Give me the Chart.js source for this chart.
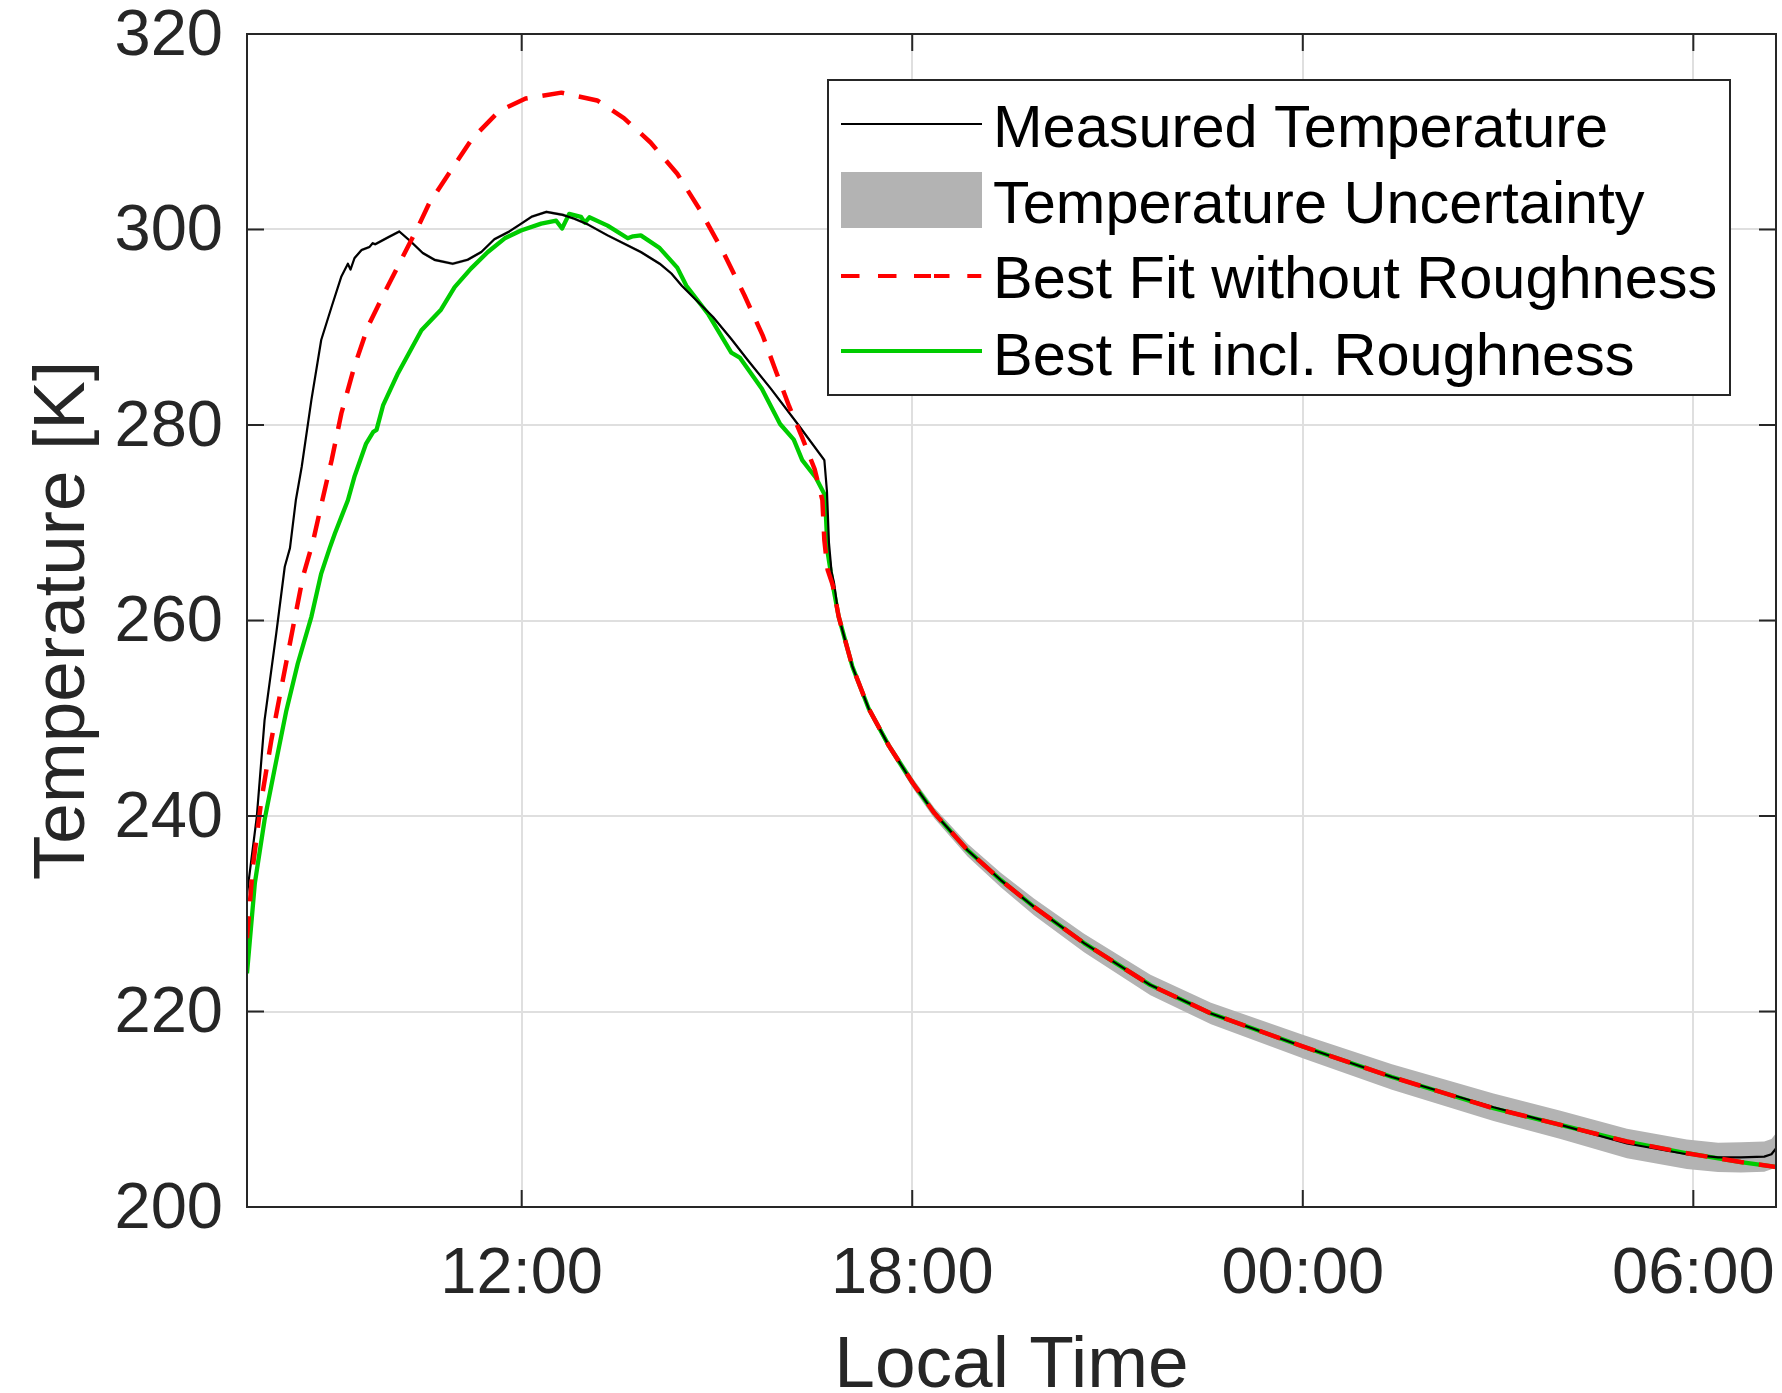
<!DOCTYPE html>
<html>
<head>
<meta charset="utf-8">
<title>Temperature fit</title>
<script src="https://cdn.jsdelivr.net/npm/chart.js@4.4.0/dist/chart.umd.min.js"></script>
<style>
  html, body { margin: 0; padding: 0; background: #fff; }
  canvas { display: block; }
</style>
</head>
<body>
<canvas id="tempChart" width="1782" height="1393"></canvas>
<script>
// --- data (hours since midnight of day 1, K) ---
const measHours = [7.78, 7.93, 8.05, 8.23, 8.36, 8.44, 8.53, 8.62, 8.77, 8.92, 9.08, 9.23, 9.33, 9.37, 9.43, 9.54, 9.66, 9.71, 9.75, 9.95, 10.12, 10.30, 10.48, 10.66, 10.94, 11.17, 11.38, 11.58, 11.81, 11.97, 12.15, 12.38, 12.63, 12.81, 13.02, 13.32, 13.83, 14.12, 14.30, 14.46, 14.94, 15.22, 15.49, 15.83, 16.24, 16.65, 16.69, 16.72, 16.76, 16.80, 16.87, 17.08, 17.33, 17.64, 18.01, 18.34, 18.85, 19.36, 19.87, 20.64, 21.66, 22.59, 24.01, 25.37, 26.93, 27.96, 28.98, 29.90, 30.38, 30.73, 31.09, 31.20, 31.27];
const measTemp = [232.0, 239.9, 249.8, 258.7, 265.5, 267.4, 272.3, 275.7, 282.6, 288.7, 292.1, 295.2, 296.5, 295.9, 297.05, 297.9, 298.2, 298.6, 298.5, 299.2, 299.8, 298.75, 297.6, 296.9, 296.5, 296.9, 297.7, 299.0, 299.8, 300.5, 301.3, 301.8, 301.5, 301.1, 300.5, 299.4, 297.7, 296.5, 295.5, 294.25, 291.05, 288.8, 286.5, 283.7, 280.1, 276.4, 273.2, 268.0, 265.0, 263.8, 260.4, 255.3, 251.0, 247.2, 243.35, 240.3, 236.5, 233.45, 230.7, 227.0, 222.7, 219.8, 216.4, 213.3, 210.2, 208.4, 206.5, 205.4, 205.08, 205.08, 205.15, 205.4, 206.0];
const measUnc = [0.2, 0.2, 0.2, 0.2, 0.2, 0.2, 0.2, 0.15, 0.15, 0.15, 0.15, 0.15, 0.15, 0.15, 0.15, 0.15, 0.15, 0.15, 0.15, 0.15, 0.15, 0.15, 0.15, 0.15, 0.15, 0.15, 0.15, 0.15, 0.15, 0.15, 0.15, 0.15, 0.15, 0.15, 0.15, 0.15, 0.15, 0.15, 0.15, 0.15, 0.15, 0.15, 0.15, 0.15, 0.15, 0.2, 0.2, 0.2, 0.2, 0.2, 0.25, 0.3, 0.4, 0.45, 0.5, 0.55, 0.65, 0.75, 0.85, 0.95, 1.05, 1.1, 1.2, 1.3, 1.4, 1.45, 1.5, 1.5, 1.5, 1.55, 1.55, 1.55, 1.55];

const smoothHours = [7.78, 7.87, 8.00, 8.155, 8.33, 8.49, 8.64, 8.795, 8.92, 9.08, 9.23, 9.43, 9.64, 9.89, 10.15, 10.41, 10.58, 11.24, 11.65, 12.06, 12.61, 13.16, 13.57, 13.98, 14.39, 14.74, 15.08, 15.42, 15.70, 15.90, 16.11, 16.31, 16.50, 16.62, 16.65, 16.70, 16.78, 16.87, 17.08, 17.33, 17.64, 18.01, 18.34, 18.85, 19.36, 19.87, 20.64, 21.66, 22.59, 24.01, 25.37, 26.93, 27.96, 28.98, 29.90, 30.73, 31.27];
const smoothTemp = [227.5, 234.8, 241.6, 247.8, 253.9, 259.4, 264.5, 268.1, 271.8, 276.4, 281.2, 286.0, 290.1, 293.5, 296.9, 300.3, 302.7, 309.3, 312.1, 313.4, 314.0, 313.2, 311.4, 308.9, 305.7, 302.0, 297.9, 293.3, 289.2, 285.6, 281.9, 278.7, 275.5, 272.3, 268.2, 265.2, 263.6, 260.4, 255.3, 251.0, 247.2, 243.35, 240.3, 236.5, 233.45, 230.7, 227.0, 222.7, 219.8, 216.4, 213.3, 210.1, 208.4, 206.7, 205.5, 204.6, 204.1];

const roughHours = [7.78, 7.90, 8.05, 8.21, 8.385, 8.56, 8.77, 8.92, 9.05, 9.13, 9.23, 9.33, 9.43, 9.61, 9.72, 9.77, 9.87, 10.10, 10.46, 10.76, 10.97, 11.22, 11.48, 11.74, 11.99, 12.30, 12.53, 12.62, 12.73, 12.91, 12.97, 13.04, 13.32, 13.63, 13.71, 13.83, 14.12, 14.39, 14.53, 14.87, 15.22, 15.35, 15.69, 15.97, 16.18, 16.31, 16.52, 16.66, 16.70, 16.78, 16.87, 17.08, 17.33, 17.64, 18.01, 18.34, 18.85, 19.36, 19.87, 20.64, 21.66, 22.59, 24.01, 25.37, 26.93, 27.96, 28.98, 29.90, 30.73, 31.27];
const roughTemp = [223.9, 233.1, 239.6, 245.0, 250.8, 255.6, 260.4, 264.8, 267.4, 268.9, 270.6, 272.3, 274.7, 278.1, 279.3, 279.5, 282.0, 285.3, 289.7, 291.8, 294.1, 296.0, 297.7, 299.1, 299.9, 300.6, 300.9, 300.1, 301.6, 301.3, 300.7, 301.25, 300.4, 299.1, 299.3, 299.4, 298.1, 296.1, 294.25, 291.3, 287.4, 286.9, 283.7, 280.1, 278.5, 276.4, 274.6, 272.8, 267.0, 263.6, 260.4, 255.3, 251.0, 247.2, 243.35, 240.3, 236.5, 233.45, 230.7, 227.0, 222.7, 219.8, 216.4, 213.3, 210.1, 208.4, 206.7, 205.5, 204.6, 204.1];

const xTicks = [12, 18, 24, 30];
const yTicks = [200, 220, 240, 260, 280, 300, 320];
const xRange = [7.78, 31.27];

const legendLabels = ['Measured Temperature', 'Temperature Uncertainty', 'Best Fit without Roughness', 'Best Fit incl. Roughness'];

// --- helpers ---
const FONT = '"Liberation Sans", Arial, Helvetica, sans-serif';
const AXIS_COLOR = '#262626';
const BAND_COLOR = '#b3b3b3';

const toPoints = (hours, temps) => hours.map((h, i) => ({ x: h, y: temps[i] }));

const fmtHour = (v) => {
    const h = ((v % 24) + 24) % 24;
    return String(h).padStart(2, '0') + ':00';
};

// no label-overflow padding: the plot box is fixed by layout padding + afterFit sizes
const noOverflow = (scale) => {
    scale.paddingTop = 0;
    scale.paddingBottom = 0;
    scale.paddingLeft = 0;
    scale.paddingRight = 0;
};

// box, inward ticks, axis titles and legend (MATLAB style)
const framePlugin = {
    id: 'frame',
    afterDatasetsDraw(chart) {
        const { ctx, chartArea: a, scales } = chart;
        ctx.save();
        ctx.strokeStyle = AXIS_COLOR;
        ctx.lineWidth = 2;
        ctx.strokeRect(a.left, a.top, a.right - a.left, a.bottom - a.top);

        const tl = 17;
        ctx.beginPath();
        yTicks.forEach(v => {
            const py = scales.y.getPixelForValue(v);
            ctx.moveTo(a.left, py); ctx.lineTo(a.left + tl, py);
            ctx.moveTo(a.right, py); ctx.lineTo(a.right - tl, py);
        });
        xTicks.forEach(v => {
            const px = scales.x.getPixelForValue(v);
            ctx.moveTo(px, a.bottom); ctx.lineTo(px, a.bottom - tl);
            ctx.moveTo(px, a.top); ctx.lineTo(px, a.top + tl);
        });
        ctx.stroke();
        ctx.restore();
    },
    afterDraw(chart) {
        const { ctx, chartArea: a } = chart;
        ctx.save();

        // axis titles
        ctx.fillStyle = AXIS_COLOR;
        ctx.font = `73px ${FONT}`;
        ctx.textAlign = 'center';
        ctx.textBaseline = 'alphabetic';
        ctx.fillText('Local Time', (a.left + a.right) / 2, 1387);

        ctx.save();
        ctx.translate(84, (a.top + a.bottom) / 2);
        ctx.rotate(-Math.PI / 2);
        ctx.fillText('Temperature [K]', 0, 0);
        ctx.restore();

        // legend box
        const L = 828, T = 80, R = 1730, B = 395;
        ctx.fillStyle = '#fff';
        ctx.fillRect(L, T, R - L, B - T);
        ctx.strokeStyle = AXIS_COLOR;
        ctx.lineWidth = 2;
        ctx.strokeRect(L, T, R - L, B - T);

        const sx0 = 841, sx1 = 982;
        const rowY = [124, 200, 276, 351];
        const baseY = [147, 223, 298, 375];

        ctx.lineCap = 'butt';
        // measured
        ctx.strokeStyle = '#000'; ctx.lineWidth = 2.2;
        ctx.beginPath(); ctx.moveTo(sx0, rowY[0]); ctx.lineTo(sx1, rowY[0]); ctx.stroke();
        // uncertainty patch
        ctx.fillStyle = BAND_COLOR;
        ctx.fillRect(sx0, rowY[1] - 28, sx1 - sx0, 56);
        // smooth fit (dashed)
        ctx.strokeStyle = '#ff0000'; ctx.lineWidth = 4;
        ctx.setLineDash([18.5, 18.5, 18.5, 17.5, 17, 3, 15.5, 17.8, 14]);
        ctx.beginPath(); ctx.moveTo(sx0, rowY[2]); ctx.lineTo(sx1, rowY[2]); ctx.stroke();
        ctx.setLineDash([]);
        // rough fit
        ctx.strokeStyle = '#00cc00'; ctx.lineWidth = 4;
        ctx.beginPath(); ctx.moveTo(sx0, rowY[3]); ctx.lineTo(sx1, rowY[3]); ctx.stroke();

        ctx.fillStyle = '#000';
        ctx.font = `59.5px ${FONT}`;
        ctx.textAlign = 'left';
        ctx.textBaseline = 'alphabetic';
        legendLabels.forEach((txt, i) => ctx.fillText(txt, 993, baseY[i]));

        ctx.restore();
    }
};

const initChart = () => {
    const ctx = document.getElementById('tempChart').getContext('2d');

    const upper = measHours.map((h, i) => ({ x: h, y: measTemp[i] + measUnc[i] }));
    const lower = measHours.map((h, i) => ({ x: h, y: measTemp[i] - measUnc[i] }));

    new Chart(ctx, {
        type: 'line',
        data: {
            datasets: [
                {
                    label: legendLabels[2],
                    data: toPoints(smoothHours, smoothTemp),
                    borderColor: '#ff0000',
                    borderWidth: 4.5,
                    borderDash: [22, 15],
                    fill: false,
                    order: 0
                },
                {
                    label: legendLabels[0],
                    data: toPoints(measHours, measTemp),
                    borderColor: '#000000',
                    borderWidth: 2.2,
                    fill: false,
                    order: 1
                },
                {
                    label: legendLabels[3],
                    data: toPoints(roughHours, roughTemp),
                    borderColor: '#00cc00',
                    borderWidth: 4.3,
                    fill: false,
                    order: 2
                },
                {
                    label: legendLabels[1],
                    data: upper,
                    borderWidth: 0,
                    borderColor: 'rgba(0,0,0,0)',
                    backgroundColor: BAND_COLOR,
                    fill: '+1',
                    order: 3
                },
                {
                    label: 'lower',
                    data: lower,
                    borderWidth: 0,
                    borderColor: 'rgba(0,0,0,0)',
                    fill: false,
                    order: 4
                }
            ]
        },
        options: {
            responsive: false,
            animation: false,
            devicePixelRatio: 1,
            layout: { padding: { top: 34, right: 6, left: 0, bottom: 0 } },
            elements: {
                point: { radius: 0, hoverRadius: 0 },
                line: { tension: 0, borderJoinStyle: 'round', borderCapStyle: 'butt' }
            },
            plugins: {
                legend: { display: false },
                tooltip: { enabled: false }
            },
            scales: {
                x: {
                    type: 'linear',
                    min: xRange[0],
                    max: xRange[1],
                    afterBuildTicks: (scale) => { scale.ticks = xTicks.map(v => ({ value: v })); },
                    afterFit: (scale) => { scale.height = 186; noOverflow(scale); },
                    grid: { color: '#dfdfdf', lineWidth: 2, drawTicks: false },
                    border: { display: false },
                    ticks: {
                        callback: (v) => fmtHour(v),
                        font: { family: FONT, size: 65 },
                        color: AXIS_COLOR,
                        padding: 29,
                        maxRotation: 0,
                        autoSkip: false
                    }
                },
                y: {
                    type: 'linear',
                    min: yTicks[0],
                    max: yTicks[yTicks.length - 1],
                    afterBuildTicks: (scale) => { scale.ticks = yTicks.map(v => ({ value: v })); },
                    afterFit: (scale) => { scale.width = 247; noOverflow(scale); },
                    grid: { color: '#dfdfdf', lineWidth: 2, drawTicks: false },
                    border: { display: false },
                    ticks: {
                        font: { family: FONT, size: 65 },
                        color: AXIS_COLOR,
                        padding: 24,
                        labelOffset: 3,
                        autoSkip: false
                    }
                }
            }
        },
        plugins: [framePlugin]
    });
};

document.addEventListener('DOMContentLoaded', initChart);
</script>
</body>
</html>
